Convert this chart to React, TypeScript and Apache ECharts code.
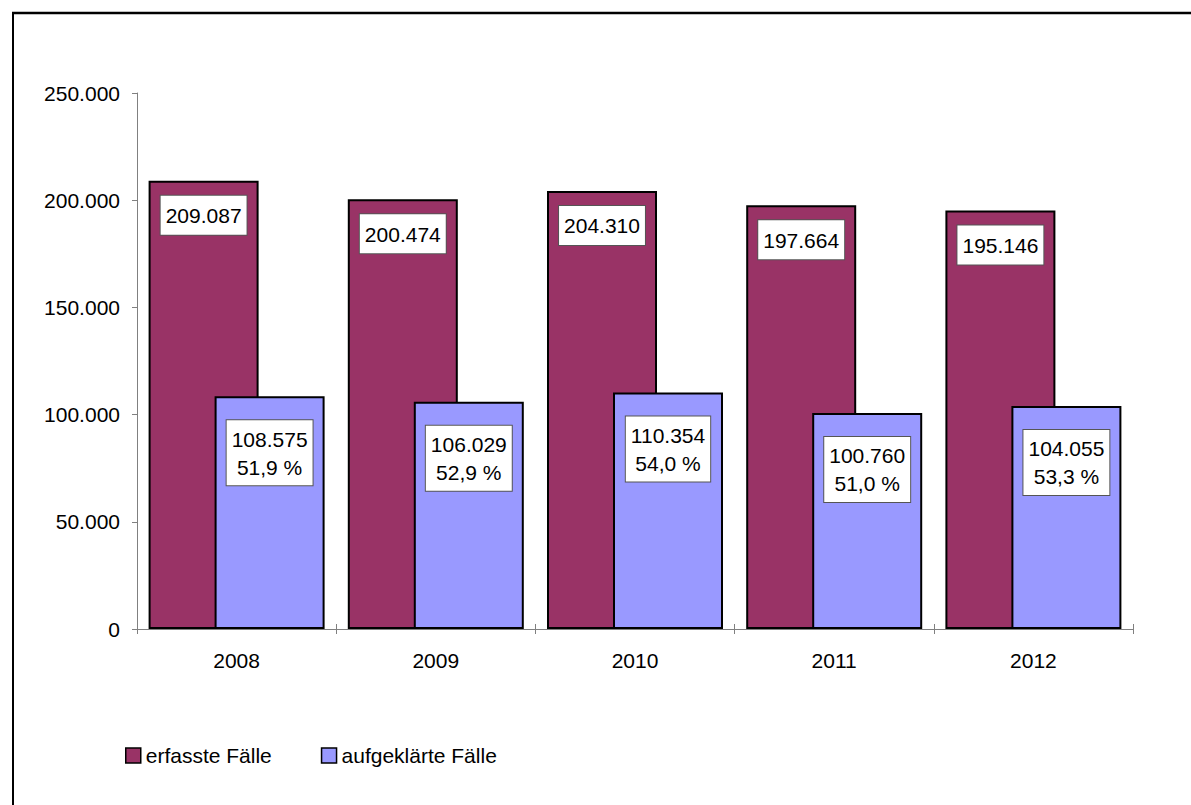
import React, { useEffect, useRef } from "react";
import * as echarts from "echarts";

const years = ["2008", "2009", "2010", "2011", "2012"];
const erfasst = [209087, 200474, 204310, 197664, 195146];
const aufgeklaert = [108575, 106029, 110354, 100760, 104055];
const quoten = ["51,9", "52,9", "54,0", "51,0", "53,3"];
const seriesNames = ["erfasste Fälle", "aufgeklärte Fälle"];

const fmt = (v: number) =>
  String(Math.round(v)).replace(/\B(?=(\d{3})+(?!\d))/g, ".");

const FONT = "'Liberation Sans', Arial, sans-serif";

export default function App() {
  const ref = useRef<HTMLDivElement>(null);
  useEffect(() => {
    document.body.style.margin = "0";
    const chart = echarts.init(ref.current!, undefined, { renderer: "svg" });
    const axisColor = "#808080";
    const labelBase = {
      show: true,
      position: "insideTop" as const,
      backgroundColor: "#ffffff",
      borderColor: "#555555",
      borderWidth: 1,
      color: "#000",
      fontSize: 21,
      fontFamily: FONT,
      align: "center" as const,
    };
    chart.setOption({
      animation: false,
      backgroundColor: "#ffffff",
      textStyle: { fontFamily: FONT },
      grid: { left: 137, right: 58, top: 93, bottom: 176, containLabel: false },
      legend: {
        left: 120,
        top: 740,
        itemWidth: 15,
        itemHeight: 15,
        itemGap: 49,
        icon: "rect",
        data: seriesNames,
        textStyle: { fontSize: 21, color: "#000", fontFamily: FONT },
        itemStyle: { borderColor: "#000", borderWidth: 1.5 },
      },
      xAxis: [
        {
          type: "category",
          data: years,
          position: "bottom",
          axisLine: { lineStyle: { color: axisColor, width: 1 } },
          axisTick: { show: true, length: 5, lineStyle: { color: axisColor } },
          axisLabel: { color: "#000", fontSize: 21, margin: 21, fontFamily: FONT },
          splitLine: { show: false },
        },
        {
          type: "category",
          data: years,
          position: "bottom",
          axisLine: { show: false },
          axisTick: { show: true, inside: true, length: 5, lineStyle: { color: axisColor } },
          axisLabel: { show: false },
          splitLine: { show: false },
        },
      ],
      yAxis: {
        type: "value",
        min: 0,
        max: 250000,
        interval: 50000,
        axisLine: { show: true, lineStyle: { color: axisColor, width: 1 } },
        axisTick: { show: true, length: 5, lineStyle: { color: axisColor } },
        axisLabel: {
          color: "#000",
          fontSize: 21,
          margin: 17,
          fontFamily: FONT,
          formatter: (v: number) => fmt(v),
        },
        splitLine: { show: false },
      },
      series: [
        {
          name: seriesNames[0],
          type: "bar",
          data: erfasst,
          barWidth: 110,
          barGap: "-40%",
          itemStyle: { color: "#993366", borderColor: "#000", borderWidth: 2 },
          label: {
            ...labelBase,
            distance: 15,
            padding: [8, 5, 7, 5],
            lineHeight: 24,
            formatter: (p: any) => fmt(p.value),
          },
        },
        {
          name: seriesNames[1],
          type: "bar",
          data: aufgeklaert,
          barWidth: 110,
          barGap: "-40%",
          itemStyle: { color: "#9999FF", borderColor: "#000", borderWidth: 2 },
          label: {
            ...labelBase,
            distance: 24,
            padding: [5, 5, 4, 5],
            lineHeight: 28,
            formatter: (p: any) => fmt(p.value) + "\n" + quoten[p.dataIndex] + " %",
          },
        },
      ],
      graphic: [
        {
          type: "line",
          shape: { x1: 12, y1: 13, x2: 1191, y2: 13 },
          style: { stroke: "#000", lineWidth: 2.5 },
        },
        {
          type: "line",
          shape: { x1: 13, y1: 13, x2: 13, y2: 805 },
          style: { stroke: "#000", lineWidth: 2 },
        },
      ],
    });
    return () => chart.dispose();
  }, []);
  return <div ref={ref} style={{ width: 1191, height: 805 }} />;
}
